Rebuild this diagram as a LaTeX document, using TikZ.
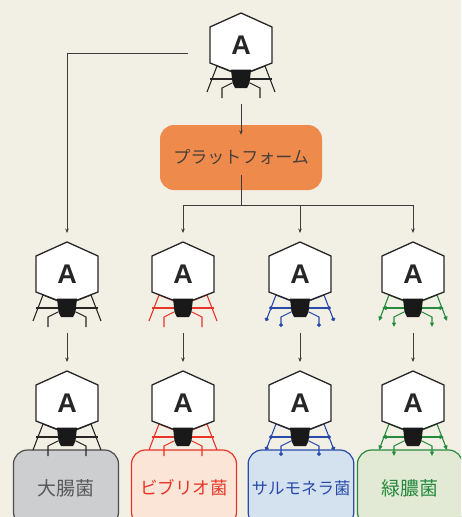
\documentclass[tikz,border=0pt]{standalone}
\usepackage{fontspec}
\newfontfamily\jp{Noto Sans CJK JP}
\newfontfamily\capfont{Liberation Sans}
\usetikzlibrary{positioning, arrows.meta, calc}

\definecolor{paper}{RGB}{242,239,228}
\definecolor{linkgray}{RGB}{60,60,60}
\definecolor{platorange}{RGB}{238,139,76}
\definecolor{plattext}{RGB}{72,62,58}
\definecolor{fibred}{RGB}{234,52,40}
\definecolor{fibblue}{RGB}{40,75,170}
\definecolor{fibgreen}{RGB}{38,138,60}

\begin{document}
\begin{tikzpicture}[
  x=1pt, y=-1pt,
  >={Stealth[length=4.5pt,width=3.6pt]},
  link/.style={draw=linkgray, line width=0.9pt},
  head/.style={draw=black!85, fill=white, line width=1.3pt},
  platform/.style={fill=platorange, rounded corners=14pt, minimum width=162pt, minimum height=65pt,
    text=plattext, font=\jp\fontsize{17}{17}\selectfont},
  germ/.style={draw, line width=1.2pt, rounded corners=14pt, minimum width=105pt, minimum height=76pt,
    font=\jp\fontsize{#1}{#1}\selectfont},
  pics/phage/.style n args={2}{code={
    % tail fibres, left side and its mirror
    \foreach \s in {1,-1}{
      \begin{scope}[xscale=\s, line width=1.1pt]
        \draw[#1, #2] (-9,27) -- (-24,21) -- (-34,47);
        \draw[#1, #2] (-8,34) -- (-31,34);
        \draw[#1, #2] (-9,38) -- (-19,43) -- (-19,53);
      \end{scope}
    }
    % capsid
    \draw[head] (0,-32) -- (31,-18) -- (31,18) -- (0,30) -- (-31,18) -- (-31,-18) -- cycle;
    % tail
    \fill[black!90] (-10,24.5) -- (10,24.5) -- (8.5,38) -- (6,43) -- (-6,43) -- (-8.5,38) -- cycle;
    \node[inner sep=0, text=black!85, font=\capfont\bfseries\fontsize{27}{27}\selectfont] (-A) {A};
    \coordinate (-in) at (0,-41);
    \coordinate (-out) at (0,59);
    \coordinate (-left) at (-53,8);
  }}
]
\useasboundingbox (0,0) rectangle (461,517);
\clip (0,0) rectangle (461,517);
\fill[paper] (0,0) rectangle (461,517);

% --- source phage and platform ---
\pic (base) at (241,45) {phage={black!85}{-}};
\node[platform] (plat) at (241,157.5) {プラットフォーム};

% --- engineered phages ---
\pic (mod1) at (67,274) {phage={black!85}{-}};
\pic (mod2) at (183,274) {phage={fibred}{-}};
\pic (mod3) at (300,274) {phage={fibblue}{-{Circle[length=4pt]}}};
\pic (mod4) at (413,274) {phage={fibgreen}{-{Triangle[length=4.5pt,width=4pt]}}};

% --- host boxes, under the landed phages ---
\node[germ=19, draw=black!70, fill={rgb,255:red,205;green,206;blue,208}, text=black!65] (ecoli) at (66,488) {大腸菌};
\node[germ=17.5, draw=fibred, fill={rgb,255:red,250;green,229;blue,214}, text=fibred] (vibrio) at (184,488) {ビブリオ菌};
\node[germ=16.5, draw=fibblue, fill={rgb,255:red,212;green,226;blue,240}, text=fibblue] (salm) at (301,488) {サルモネラ菌};
\node[germ=19, draw=fibgreen, fill={rgb,255:red,226;green,234;blue,214}, text=fibgreen] (pseudo) at (410,488) {緑膿菌};

% --- phages bound to their hosts ---
\pic (fin1) at (67,403) {phage={black!85}{-}};
\pic (fin2) at (183,403) {phage={fibred}{-}};
\pic (fin3) at (300,403) {phage={fibblue}{-{Circle[length=4pt]}}};
\pic (fin4) at (413,403) {phage={fibgreen}{-{Triangle[length=4.5pt,width=4pt]}}};

% natural phage straight to the left column
\draw[link, ->] (base-left) -| (mod1-in);
% into the platform and out to the three variants
\draw[link, ->] (base-out) -- ($(plat.north)+(0,10)$);
\coordinate (split) at ($(plat.south)+(0,15)$);
\draw[link] ($(plat.south)+(0,-15)$) -- (split);
\foreach \m in {mod2, mod3, mod4}
  \draw[link, ->] (split) -| (\m-in);

% each phage down onto its host
\foreach \i in {1,...,4}
  \draw[link, ->] (mod\i-out) -- (fin\i-in);
\end{tikzpicture}
\end{document}
